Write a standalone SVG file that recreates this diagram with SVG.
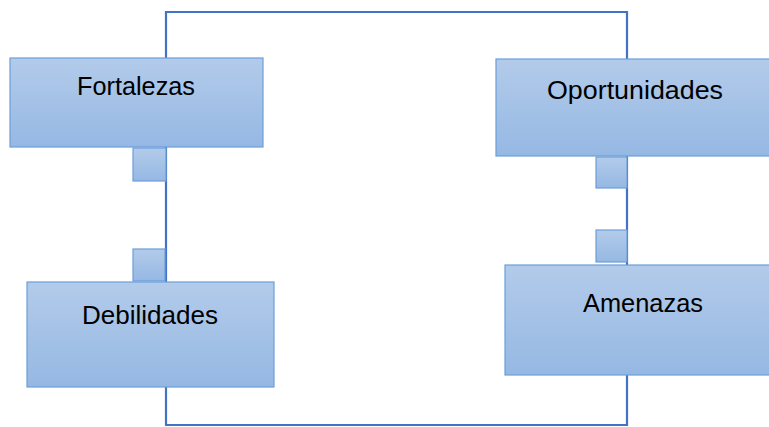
<svg xmlns="http://www.w3.org/2000/svg" width="769" height="427" viewBox="0 0 769 427">
<defs>
<linearGradient id="g" x1="0" y1="0" x2="0" y2="1">
<stop offset="0" stop-color="#b3cbea"/>
<stop offset="1" stop-color="#95b8e3"/>
</linearGradient>
<style>
.box{fill:url(#g);stroke:#6b9fd9;stroke-width:1.2}
.sq{fill:url(#g);stroke:#6b9fd9;stroke-width:1.2}
.lbl{font-family:"Liberation Sans",Arial,sans-serif;font-size:25px;fill:#000;text-anchor:middle}
.conn{fill:none;stroke:#4472c4;stroke-width:2.2}
</style>
</defs>
<rect width="769" height="427" fill="#fff"/>
<g id="connectors">
<path class="conn" d="M166,12 H627 V425 H166 Z"/>
</g>
<g id="fortalezas">
<rect class="box" x="10" y="58" width="253" height="89"/>
<rect class="sq" x="133" y="148" width="33" height="33"/>
<text class="lbl" x="136" y="95" textLength="118" lengthAdjust="spacingAndGlyphs">Fortalezas</text>
</g>
<g id="oportunidades">
<rect class="box" x="496" y="59" width="280" height="97"/>
<rect class="sq" x="596" y="157" width="31" height="31"/>
<text class="lbl" x="635" y="99" textLength="176" lengthAdjust="spacingAndGlyphs">Oportunidades</text>
</g>
<g id="debilidades">
<rect class="box" x="27" y="282" width="247" height="105"/>
<rect class="sq" x="133" y="249" width="32" height="32"/>
<text class="lbl" x="150" y="324" textLength="136" lengthAdjust="spacingAndGlyphs">Debilidades</text>
</g>
<g id="amenazas">
<rect class="box" x="505" y="265" width="280" height="110"/>
<rect class="sq" x="596" y="230" width="31" height="32"/>
<text class="lbl" x="643" y="312" textLength="120" lengthAdjust="spacingAndGlyphs">Amenazas</text>
</g>
</svg>
